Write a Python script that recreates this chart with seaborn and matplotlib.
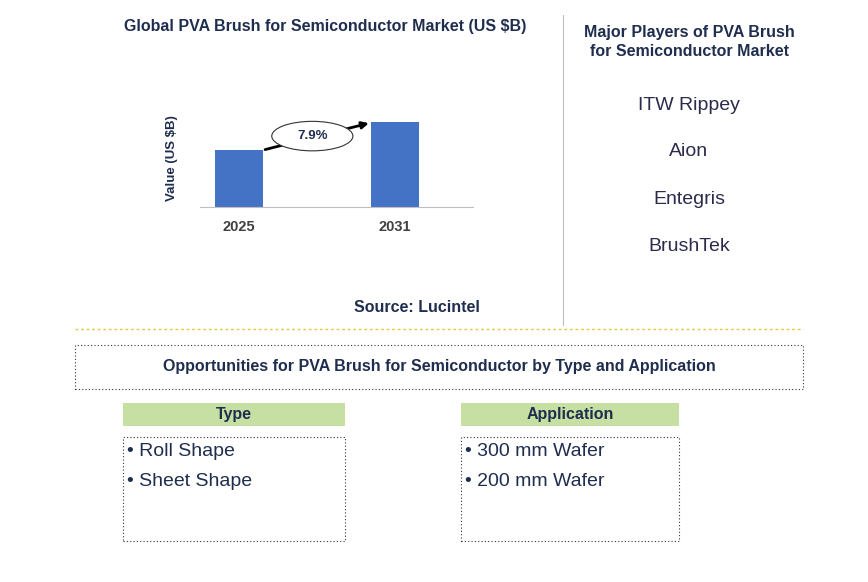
import matplotlib
matplotlib.use("Agg")
import matplotlib.pyplot as plt
import seaborn as sns
import pandas as pd
from matplotlib.patches import Rectangle, Ellipse
from matplotlib.lines import Line2D

plt.rcParams["font.family"] = "Liberation Sans"

years = ["2025", "2031"]
values = [1.0, 1.5]
cagr_label = "7.9%"
players = ["ITW Rippey", "Aion", "Entegris", "BrushTek"]
types = ["Roll Shape", "Sheet Shape"]
applications = ["300 mm Wafer", "200 mm Wafer"]

W, H = 868, 582
fig = plt.figure(figsize=(W/100, H/100), dpi=100)
navy = "#1F2D4E"

def fx(x): return x / W
def fy(y): return 1 - y / H

ax = fig.add_axes([fx(200), fy(207), fx(473) - fx(200), fy(110) - fy(207)])
df = pd.DataFrame({"year": years, "value": values})
sns.barplot(data=df, x="year", y="value", color="#4472C4", width=0.31, saturation=1, ax=ax)
ax.set_xlim(-0.25, 1.5)
ax.set_ylim(0, 1.71)
ax.set_yticks([])
ax.set_xlabel("")
ax.set_ylabel("Value (US $B)", fontsize=9.5, fontweight="bold", color=navy, labelpad=16)
for s in ["top", "right", "left"]:
    ax.spines[s].set_visible(False)
ax.spines["bottom"].set_color("#BFBFBF")
ax.tick_params(axis="x", length=0, pad=9)
for t in ax.get_xticklabels():
    t.set_fontweight("bold"); t.set_fontsize(10.5); t.set_color("#404040")
ax.annotate("", xy=(0.85, 1.49), xytext=(0.15, 1.0),
            arrowprops=dict(arrowstyle="-|>", color="black", lw=2))
ax.add_patch(Ellipse((0.47, 1.25), 0.52, 0.52, fc="white", ec="#333333", lw=0.8, zorder=5))
ax.text(0.47, 1.25, cagr_label, ha="center", va="center", fontsize=9.5, fontweight="bold", color=navy, zorder=6)

fig.text(fx(325), fy(27), "Global PVA Brush for Semiconductor Market (US $B)", ha="center", va="center",
         fontsize=11.5, fontweight="bold", color=navy)
fig.text(fx(417), fy(308), "Source: Lucintel", ha="center", va="center", fontsize=11.5, fontweight="bold", color=navy)

fig.add_artist(Line2D([fx(563), fx(563)], [fy(15), fy(325)], color="#BFBFBF", lw=0.8))
fig.text(fx(689), fy(42), "Major Players of PVA Brush\nfor Semiconductor Market", ha="center", va="center",
         fontsize=11.5, fontweight="bold", color=navy, linespacing=1.3)
for i, p in enumerate(players):
    fig.text(fx(689), fy(105 + 47 * i), p, ha="center", va="center", fontsize=14, color="#2B2B4B")

fig.add_artist(Line2D([fx(75), fx(803)], [fy(329), fy(329)], color="#E6C84A", lw=1, ls=(0, (2, 2))))

def rect(x0, y0, x1, y1, **kw):
    fig.add_artist(Rectangle((fx(x0), fy(y1)), fx(x1) - fx(x0), fy(y0) - fy(y1), transform=fig.transFigure, **kw))

rect(75, 345, 803, 389, fill=False, ec="#333333", lw=0.8, ls=(0, (1, 2)))
fig.text(fx(439), fy(367), "Opportunities for PVA Brush for Semiconductor by Type and Application",
         ha="center", va="center", fontsize=11.5, fontweight="bold", color=navy)

for (x0, x1, title, items) in [(123, 345, "Type", types), (461, 679, "Application", applications)]:
    rect(x0, 403, x1, 426, fc="#C6E0A4", ec="none")
    fig.text(fx((x0 + x1) / 2), fy(414.5), title, ha="center", va="center", fontsize=11.5, fontweight="bold", color=navy)
    rect(x0, 437, x1, 541, fill=False, ec="#333333", lw=0.8, ls=(0, (1, 2)))
    for i, it in enumerate(items):
        fig.text(fx(x0 + 4), fy(452 + 30 * i), "\u2022 " + it, ha="left", va="center", fontsize=14, color=navy)

fig.savefig("out.png", dpi=100)
